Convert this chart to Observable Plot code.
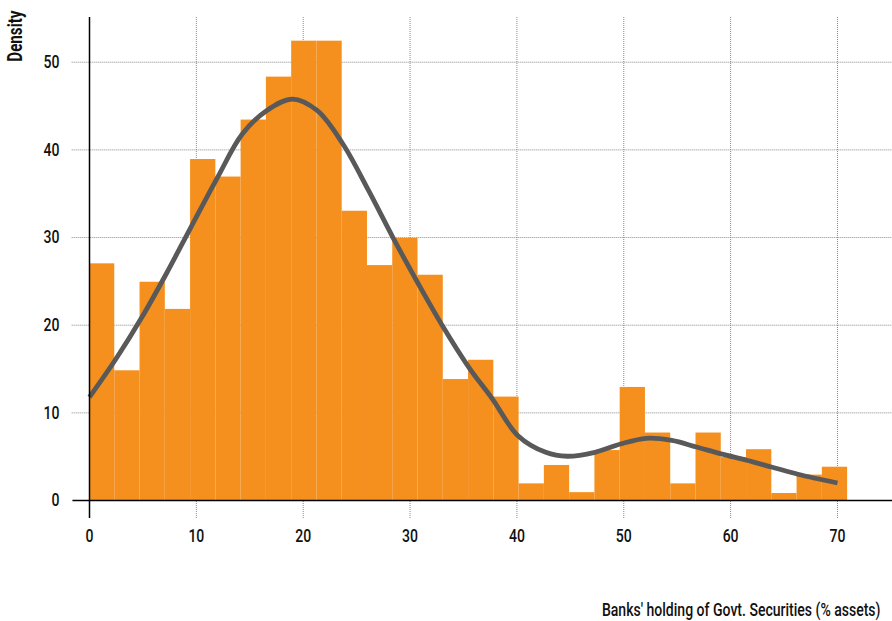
<!DOCTYPE html>
<html>
<head>
<meta charset="utf-8">
<script src="https://cdn.jsdelivr.net/npm/d3@7"></script>
<script src="https://cdn.jsdelivr.net/npm/@observablehq/plot@0.6"></script>
<style>
  html, body { margin: 0; padding: 0; background: #fff; }
  #chart svg { display: block; }
</style>
</head>
<body>
<div id="chart"></div>
<script>
// Histogram of banks' holdings of government securities (% of assets)
const binStart = 0;
const binWidth = 2.365;
const binHeights = [
  27.0, 14.8, 24.9, 21.8, 38.9, 36.9, 43.4, 48.3, 52.4, 52.4,
  33.0, 26.8, 29.9, 25.7, 13.8, 16.0, 11.8, 1.9, 4.0, 0.9,
  5.7, 12.9, 7.7, 1.9, 7.7, 4.9, 5.8, 0.8, 2.9, 3.8
];

// Smoothed density curve
const curveX = [0, 2.5, 4.9, 7.2, 9.5, 12.0, 14.3, 16.6, 19.0, 21.3, 23.7, 26.1, 28.4, 30.6, 33.0, 35.5, 37.7, 40.1, 42.7, 44.7, 47.3, 49.7, 52.1, 54.5, 56.8, 59.2, 61.5, 63.9, 66.3, 70.0];
const curveY = [11.8, 16.2, 20.9, 25.9, 31.2, 36.9, 41.8, 44.5, 45.8, 44.5, 40.7, 35.4, 30.0, 25.1, 20.0, 15.2, 11.6, 7.4, 5.5, 5.05, 5.5, 6.45, 7.1, 6.85, 6.1, 5.3, 4.6, 3.8, 3.0, 2.0];

const xTicks = [0, 10, 20, 30, 40, 50, 60, 70];
const yTicks = [0, 10, 20, 30, 40, 50];

const xTitle = "Banks' holding of Govt. Securities (% assets)";
const yTitle = "Density";

const xDomain = [0, 75.15];
const yDomain = [-2.05, 55.1];

const bins = binHeights.map((h, i) => ({
  x1: binStart + i * binWidth,
  x2: binStart + (i + 1) * binWidth,
  h
}));
const curve = curveX.map((x, i) => ({x, y: curveY[i]}));

const gridStyle = {stroke: "#8a8a8a", strokeOpacity: 1, strokeWidth: 1, strokeDasharray: "1,1"};

const chart = Plot.plot({
  width: 892,
  height: 621,
  marginLeft: 89,
  marginRight: 0,
  marginTop: 17,
  marginBottom: 103,
  x: {domain: xDomain},
  y: {domain: yDomain},
  style: {
    fontFamily: "Roboto, 'Liberation Sans', sans-serif",
    fontSize: "18px",
    fontWeight: 500,
    color: "#111",
    background: "#fff"
  },
  marks: [
    Plot.gridX(xTicks.filter(d => d > 0), gridStyle),
    Plot.ruleY(yTicks.filter(d => d > 0), {x1: -1.62, x2: xDomain[1], ...gridStyle}),
    Plot.rect(bins, {x1: "x1", x2: "x2", y1: 0, y2: "h", fill: "#f5901f", inset: 0}),
    Plot.line(curve, {x: "x", y: "y", curve: "catmull-rom", stroke: "#595959", strokeWidth: 4.8, strokeLinecap: "butt", strokeLinejoin: "round"}),
    Plot.ruleX([0], {stroke: "#000", strokeWidth: 1.5}),
    Plot.ruleY([0], {x1: -1.55, x2: xDomain[1], stroke: "#000", strokeWidth: 1.5}),
    Plot.axisX(xTicks, {tickSize: 0, tickPadding: 11, fontSize: 18, label: null}),
    Plot.axisY(yTicks, {tickSize: 0, tickPadding: 30, fontSize: 18, label: null}),
    Plot.text([yTitle], {frameAnchor: "top-left", dx: -74, dy: -7, rotate: -90, textAnchor: "end", lineAnchor: "middle", fontWeight: "bold", fontSize: 19.5}),
    Plot.text([xTitle], {frameAnchor: "bottom-right", dx: -12, dy: 92, textAnchor: "end", lineAnchor: "middle", fontSize: 18})
  ]
});

// Condensed lettering: narrow every label along its own reading direction,
// keeping its anchor point fixed.
const condense = 0.78;
d3.select(chart).selectAll("text").each(function() {
  const t = this.getAttribute("transform");
  if (t) {
    this.setAttribute("transform", `${t} scale(${condense},1)`);
  } else {
    const x = +this.getAttribute("x") || 0;
    const y = +this.getAttribute("y") || 0;
    this.setAttribute("transform", `translate(${x},${y}) scale(${condense},1) translate(${-x},${-y})`);
  }
});

document.getElementById("chart").appendChild(chart);
</script>
</body>
</html>
